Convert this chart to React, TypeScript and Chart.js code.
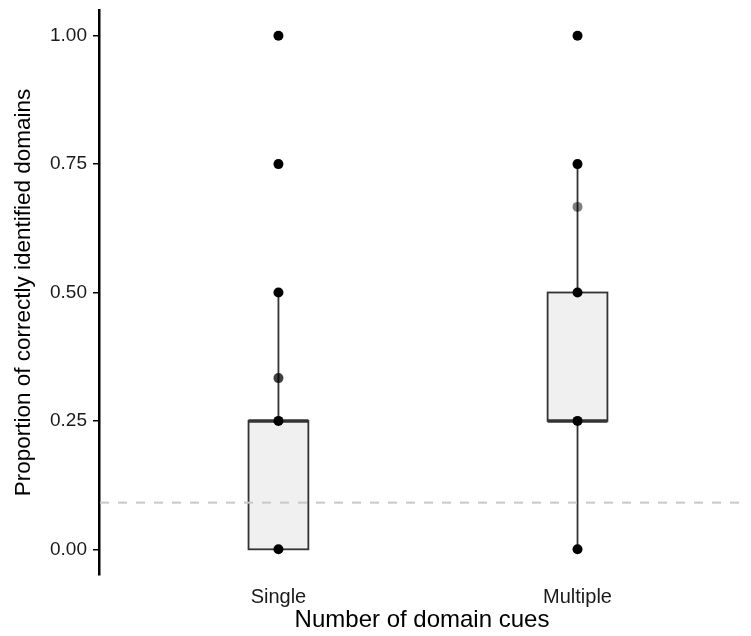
import React, { useEffect, useRef } from "react";
import { Chart, registerables } from "chart.js";

Chart.register(...registerables);

const categories = ["Single", "Multiple"];
const categoryPositions = [1, 2];
const boxLower = [0, 0.25];
const boxMedian = [0.25, 0.25];
const boxUpper = [0.25, 0.5];
const whiskerLow = [0, 0];
const whiskerHigh = [0.5, 0.75];
const singlePoints = [0, 0.25, 1 / 3, 0.5, 0.75, 1];
const multiplePoints = [0, 0.25, 0.5, 2 / 3, 0.75, 1];
const singlePointShade = [1, 1, 0.75, 1, 1, 1];
const multiplePointShade = [1, 1, 1, 0.5, 1, 1];
const chanceLevel = 1 / 11;
const yTicks = [0, 0.25, 0.5, 0.75, 1];

const FONT = "'Liberation Sans', Arial, Helvetica, sans-serif";

const boxPlugin = {
  id: "boxPlugin",
  beforeDatasetsDraw(chart: any) {
    const { ctx, chartArea } = chart;
    const xs = chart.scales.x;
    const ys = chart.scales.y;
    ctx.save();
    categoryPositions.forEach((pos, i) => {
      const cx = xs.getPixelForValue(pos);
      const left = xs.getPixelForValue(pos - 0.1);
      const right = xs.getPixelForValue(pos + 0.1);
      const yLow = ys.getPixelForValue(whiskerLow[i]);
      const yQ1 = ys.getPixelForValue(boxLower[i]);
      const yMed = ys.getPixelForValue(boxMedian[i]);
      const yQ3 = ys.getPixelForValue(boxUpper[i]);
      const yHigh = ys.getPixelForValue(whiskerHigh[i]);
      ctx.strokeStyle = "#333333";
      ctx.lineWidth = 1.8;
      ctx.beginPath();
      ctx.moveTo(cx, yLow);
      ctx.lineTo(cx, yQ1);
      ctx.moveTo(cx, yQ3);
      ctx.lineTo(cx, yHigh);
      ctx.stroke();
      ctx.fillStyle = "#f0f0f0";
      ctx.fillRect(left, yQ3, right - left, yQ1 - yQ3);
      ctx.strokeRect(left, yQ3, right - left, yQ1 - yQ3);
      ctx.lineWidth = 3.5;
      ctx.beginPath();
      ctx.moveTo(left, yMed);
      ctx.lineTo(right, yMed);
      ctx.stroke();
    });
    // chance level dashed line
    const yc = ys.getPixelForValue(chanceLevel);
    ctx.strokeStyle = "#c8c8c8";
    ctx.lineWidth = 2;
    ctx.setLineDash([9, 9]);
    ctx.beginPath();
    ctx.moveTo(chartArea.left + 1, yc);
    ctx.lineTo(chartArea.right, yc);
    ctx.stroke();
    ctx.restore();
  },
};

function shade(a: number) {
  return `rgba(0,0,0,${a})`;
}

export default function App() {
  const ref = useRef<HTMLCanvasElement | null>(null);
  useEffect(() => {
    if (!ref.current) return;
    const chart = new Chart(ref.current, {
      type: "scatter",
      data: {
        datasets: [
          {
            label: categories[0],
            data: singlePoints.map((v) => ({ x: categoryPositions[0], y: v })),
            pointRadius: 5,
            pointBorderWidth: 0,
            pointBackgroundColor: singlePointShade.map(shade),
            pointBorderColor: "rgba(0,0,0,0)",
          },
          {
            label: categories[1],
            data: multiplePoints.map((v) => ({ x: categoryPositions[1], y: v })),
            pointRadius: 5,
            pointBorderWidth: 0,
            pointBackgroundColor: multiplePointShade.map(shade),
            pointBorderColor: "rgba(0,0,0,0)",
          },
        ],
      },
      options: {
        animation: false,
        responsive: false,
        maintainAspectRatio: false,
        layout: { padding: { top: 10, right: 6, left: 0, bottom: 0 } },
        plugins: {
          legend: { display: false },
          tooltip: { enabled: false },
        },
        scales: {
          x: {
            type: "linear",
            min: 0.4,
            max: 2.56,
            afterBuildTicks: (scale: any) => {
              scale.ticks = categoryPositions.map((v) => ({ value: v }));
            },
            afterFit: (scale: any) => {
              scale.height = 61;
              scale.paddingLeft = 0;
              scale.paddingRight = 0;
            },
            ticks: {
              callback: (v: any) => {
                const i = categoryPositions.indexOf(Number(v));
                return i >= 0 ? categories[i] : "";
              },
              color: "#1a1a1a",
              font: { family: FONT, size: 20 },
              padding: 10,
              maxRotation: 0,
              autoSkip: false,
            },
            grid: { display: false, drawTicks: false },
            border: { display: false },
            title: {
              display: true,
              text: "Number of domain cues",
              color: "#000",
              font: { family: FONT, size: 24 },
              padding: { top: 0, bottom: 1 },
            },
          },
          y: {
            type: "linear",
            min: -0.05,
            max: 1.05,
            afterBuildTicks: (scale: any) => {
              scale.ticks = yTicks.map((v) => ({ value: v }));
            },
            afterFit: (scale: any) => {
              scale.width = 99;
              scale.paddingTop = 0;
              scale.paddingBottom = 0;
            },
            ticks: {
              callback: (v: any) => Number(v).toFixed(2),
              color: "#1a1a1a",
              font: { family: FONT, size: 19 },
              padding: 6,
            },
            grid: {
              drawOnChartArea: false,
              drawTicks: true,
              tickLength: 6,
              color: "#000",
              lineWidth: 1.5,
            },
            border: { display: true, color: "#000", width: 2.5 },
            title: {
              display: true,
              text: "Proportion of correctly identified domains",
              color: "#000",
              font: { family: FONT, size: 22.5 },
              padding: { top: 10, bottom: 0 },
            },
          },
        },
      },
      plugins: [boxPlugin],
    });
    return () => chart.destroy();
  }, []);
  return (
    <div style={{ position: "fixed", left: 0, top: 0, width: 751, height: 636, background: "#fff" }}>
      <canvas ref={ref} width={751} height={636} style={{ display: "block" }} />
    </div>
  );
}
